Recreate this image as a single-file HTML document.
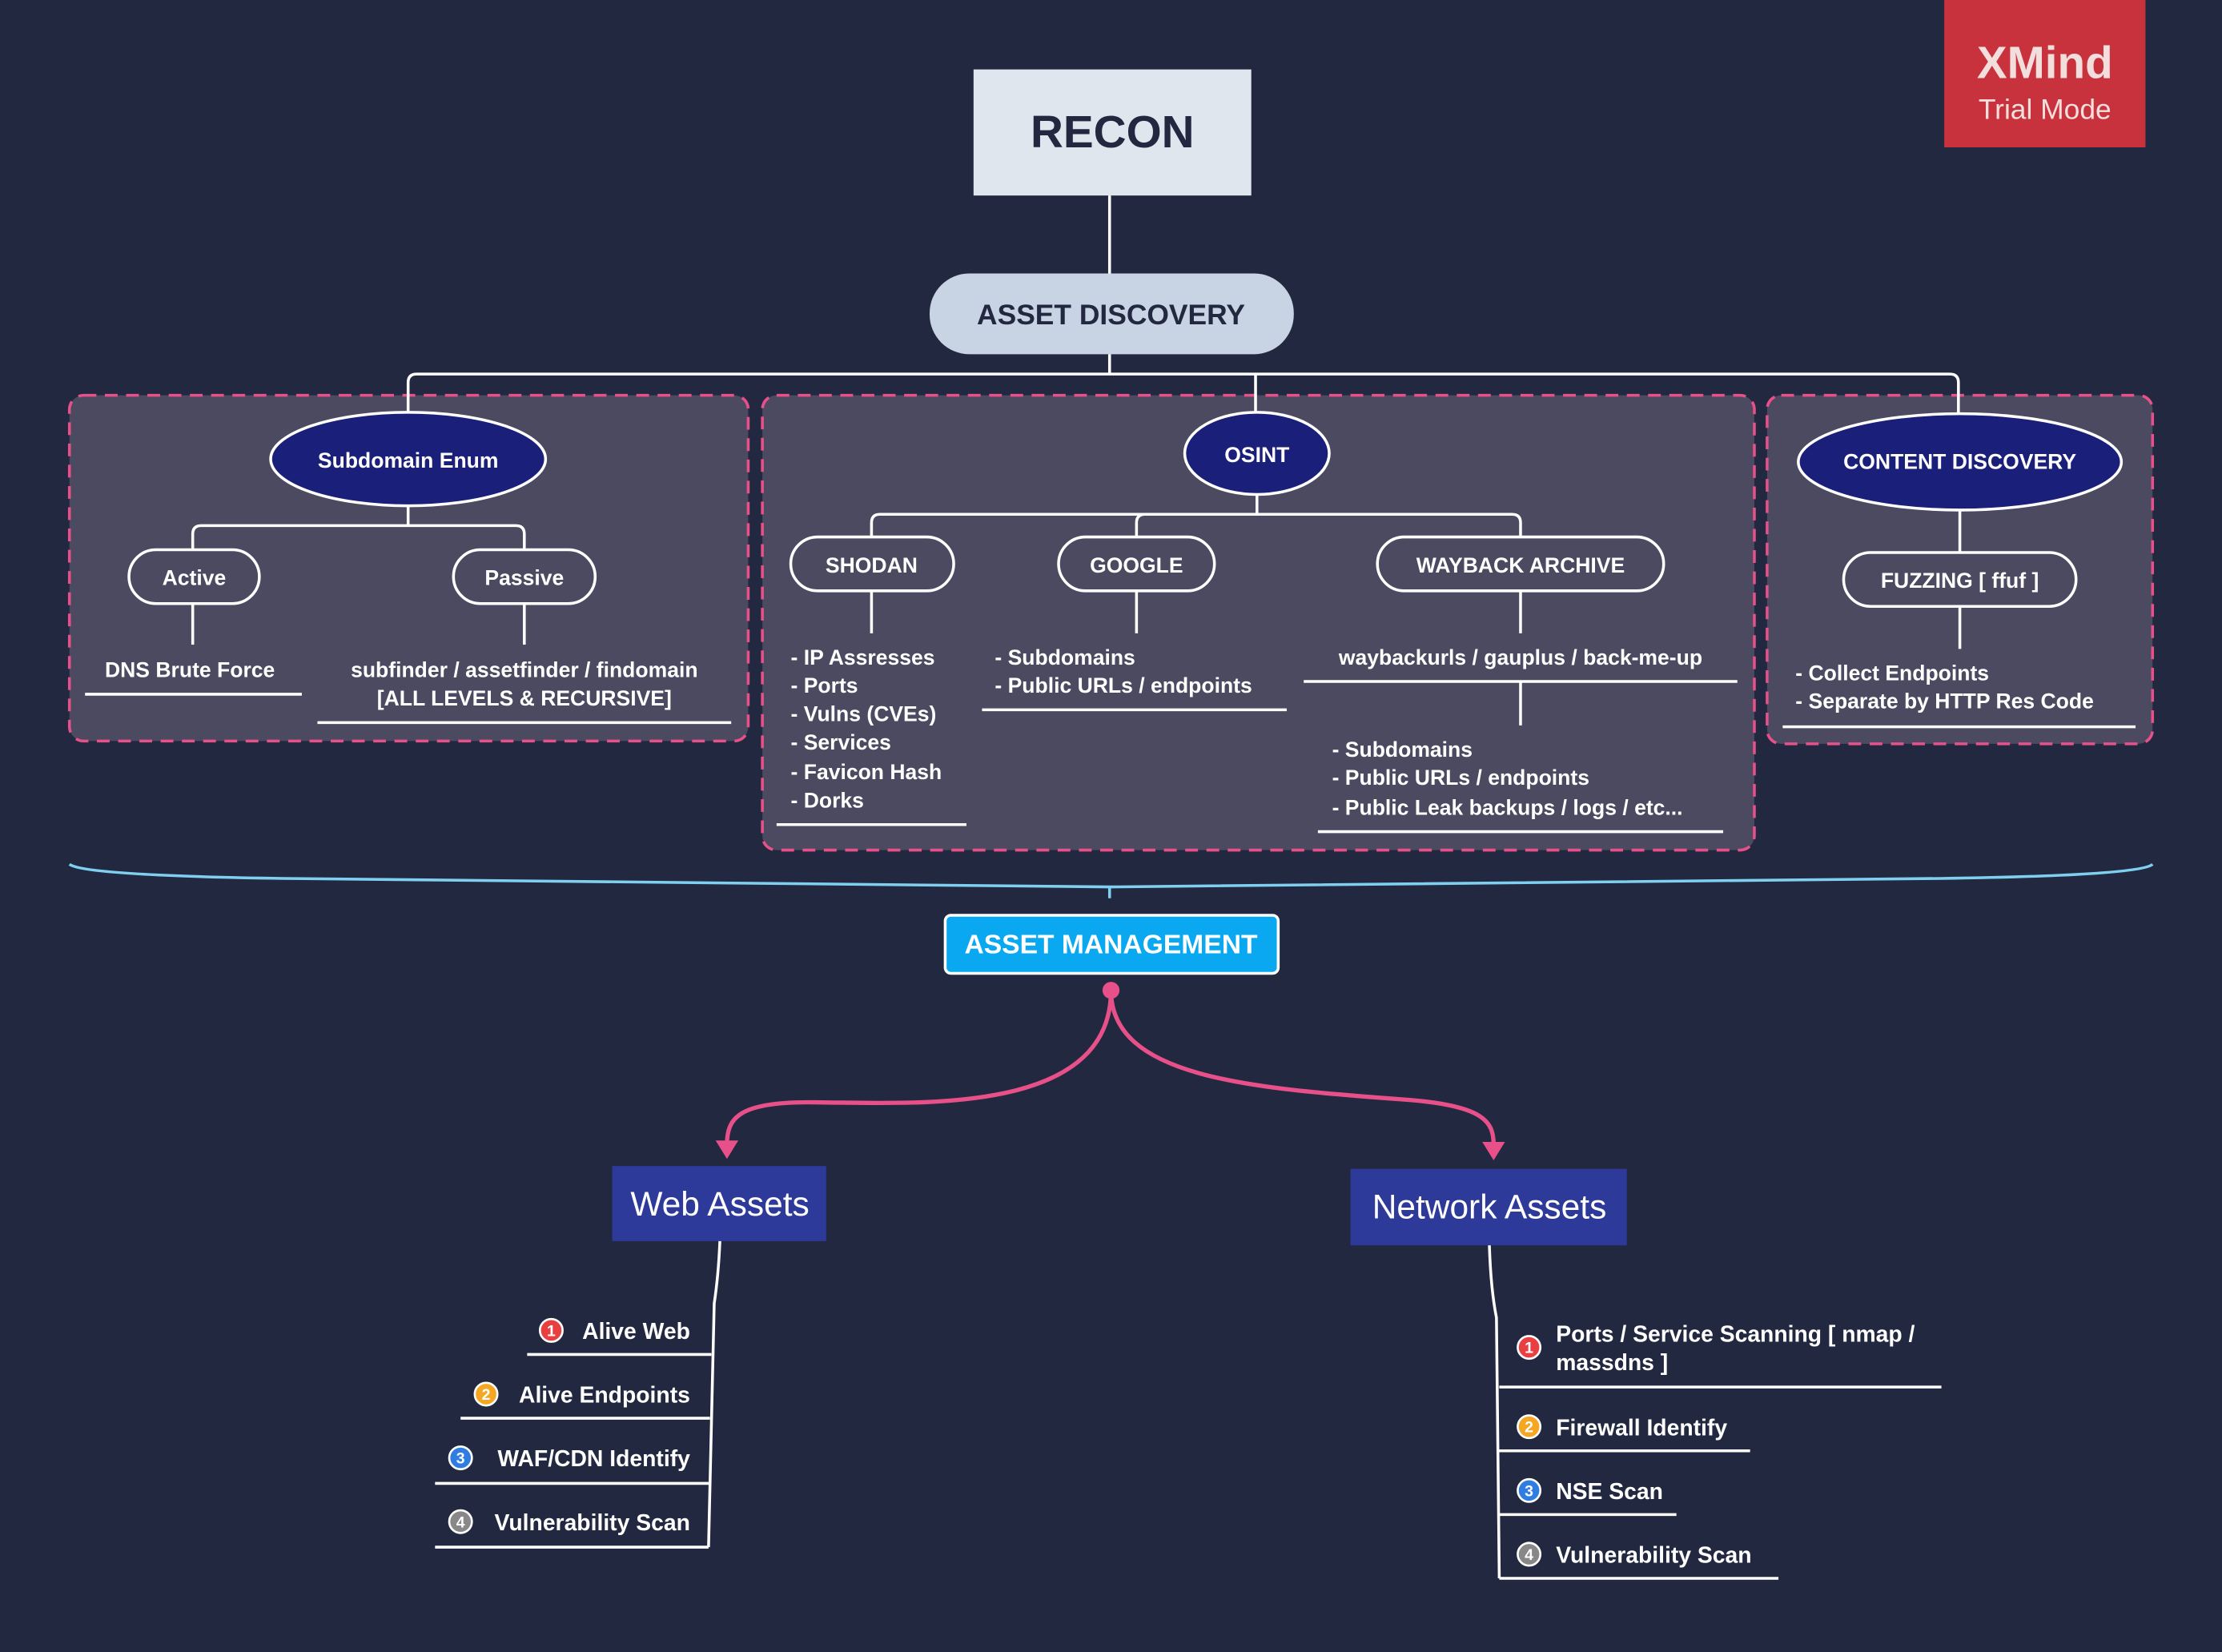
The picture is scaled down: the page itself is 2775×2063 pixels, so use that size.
<!DOCTYPE html>
<html><head><meta charset="utf-8"><style>
html,body{margin:0;padding:0;background:#222840;}
svg{display:block}
text{font-family:"Liberation Sans",sans-serif;}
</style></head><body>
<svg width="2775" height="2063" viewBox="0 0 1568 1166" preserveAspectRatio="none" xmlns="http://www.w3.org/2000/svg">
<rect width="1568" height="1166" fill="#222840"/>
<!-- XMind -->
<rect x="1372" y="0" width="142" height="104" fill="#c8323c"/>
<text x="1443" y="55" text-anchor="middle" font-size="32" font-weight="bold" fill="#f3dede">XMind</text>
<text x="1443" y="84" text-anchor="middle" font-size="20" fill="#f3dede">Trial Mode</text>

<!-- dashed boxes -->
<g fill="#4b4a60" stroke="#e8508a" stroke-width="2" stroke-dasharray="9,6">
<rect x="49" y="279" width="479" height="244" rx="10"/>
<rect x="538" y="279" width="700" height="321" rx="10"/>
<rect x="1247" y="279" width="272" height="246" rx="10"/>
</g>

<g stroke="#ffffff" stroke-width="2" fill="none">
<line x1="783" y1="138" x2="783" y2="193"/>
<line x1="783" y1="250" x2="783" y2="264"/>
<path d="M288 292 V270 Q288 264 294 264 H1376 Q1382 264 1382 270 V292"/>
<line x1="886" y1="264" x2="886" y2="292" />
<path d="M886 264 Q886 264 886 264"/>
<!-- subdomain -->
<line x1="288" y1="357" x2="288" y2="371"/>
<path d="M136 388 V377 Q136 371 142 371 H364 Q370 371 370 377 V388"/>
<line x1="136" y1="426" x2="136" y2="455"/>
<line x1="370" y1="426" x2="370" y2="455"/>
<line x1="60" y1="490" x2="213" y2="490"/>
<line x1="224" y1="510" x2="516" y2="510"/>
<!-- osint -->
<line x1="887" y1="349" x2="887" y2="363"/>
<path d="M615 379 V369 Q615 363 621 363 H1067 Q1073 363 1073 369 V379"/>
<path d="M802 379 V369 Q802 363 808 363"/>
<line x1="615" y1="417" x2="615" y2="447"/>
<line x1="802" y1="417" x2="802" y2="447"/>
<line x1="1073" y1="417" x2="1073" y2="447"/>
<line x1="548" y1="582" x2="682" y2="582"/>
<line x1="693" y1="501" x2="908" y2="501"/>
<line x1="920" y1="481" x2="1226" y2="481"/>
<line x1="1073" y1="481" x2="1073" y2="512"/>
<line x1="930" y1="587" x2="1216" y2="587"/>
<!-- content -->
<line x1="1383" y1="360" x2="1383" y2="390"/>
<line x1="1383" y1="428" x2="1383" y2="458"/>
<line x1="1258" y1="513" x2="1507" y2="513"/>
</g>

<!-- RECON -->
<rect x="687" y="49" width="196" height="89" fill="#e0e6ee"/>
<text x="785" y="104" text-anchor="middle" font-size="32" font-weight="bold" fill="#222840">RECON</text>
<rect x="656" y="193" width="257" height="57" rx="28" fill="#c8d3e3"/>
<text x="784" y="229" text-anchor="middle" font-size="20" font-weight="bold" fill="#222840">ASSET DISCOVERY</text>

<!-- ellipses -->
<g fill="#1a1f7a" stroke="#ffffff" stroke-width="2">
<ellipse cx="288" cy="324" rx="97" ry="33"/>
<ellipse cx="887" cy="320" rx="51" ry="29"/>
<ellipse cx="1383" cy="326" rx="114" ry="34"/>
</g>
<g font-size="15" font-weight="bold" fill="#ffffff" text-anchor="middle">
<text x="288" y="330">Subdomain Enum</text>
<text x="887" y="326">OSINT</text>
<text x="1383" y="331">CONTENT DISCOVERY</text>
</g>

<!-- pills -->
<g fill="#4b4a60" stroke="#ffffff" stroke-width="2">
<rect x="91" y="388" width="92" height="38" rx="19"/>
<rect x="320" y="388" width="100" height="38" rx="19"/>
<rect x="558" y="379" width="115" height="38" rx="19"/>
<rect x="747" y="379" width="110" height="38" rx="19"/>
<rect x="972" y="379" width="202" height="38" rx="19"/>
<rect x="1301" y="390" width="164" height="38" rx="19"/>
</g>
<g font-size="15" font-weight="bold" fill="#ffffff" text-anchor="middle">
<text x="137" y="413">Active</text>
<text x="370" y="413">Passive</text>
<text x="615" y="404">SHODAN</text>
<text x="802" y="404">GOOGLE</text>
<text x="1073" y="404">WAYBACK ARCHIVE</text>
<text x="1383" y="415">FUZZING [ ffuf ]</text>
<text x="134" y="478">DNS Brute Force</text>
<text x="370" y="478">subfinder / assetfinder / findomain</text>
<text x="370" y="498">[ALL LEVELS &amp; RECURSIVE]</text>
<text x="1073" y="469">waybackurls / gauplus / back-me-up</text>
</g>
<g font-size="15" font-weight="bold" fill="#ffffff">
<text x="558" y="469">- IP Assresses</text>
<text x="558" y="489">- Ports</text>
<text x="558" y="509">- Vulns (CVEs)</text>
<text x="558" y="529">- Services</text>
<text x="558" y="550">- Favicon Hash</text>
<text x="558" y="570">- Dorks</text>
<text x="702" y="469">- Subdomains</text>
<text x="702" y="489">- Public URLs / endpoints</text>
<text x="940" y="534">- Subdomains</text>
<text x="940" y="554">- Public URLs / endpoints</text>
<text x="940" y="575">- Public Leak backups / logs / etc...</text>
<text x="1267" y="480">- Collect Endpoints</text>
<text x="1267" y="500">- Separate by HTTP Res Code</text>
</g>

<!-- brace -->
<path d="M49 610 Q60 618 200 620 L783 626 L1370 620 Q1510 618 1519 610" fill="none" stroke="#7fd0f0" stroke-width="2"/>
<line x1="783" y1="626" x2="783" y2="634" stroke="#7fd0f0" stroke-width="2"/>

<rect x="667" y="646" width="235" height="41" rx="4" fill="#0aa8f0" stroke="#ffffff" stroke-width="2"/>
<text x="784" y="673" text-anchor="middle" font-size="19" font-weight="bold" fill="#ffffff">ASSET MANAGEMENT</text>

<!-- curves -->
<g fill="none" stroke="#e8508a" stroke-width="3">
<path d="M784 699 C784 790 640 778 570 778 C520 778 513 790 513 808"/>
<path d="M784 699 C784 760 880 768 990 776 C1048 780 1054 792 1054 808"/>
</g>
<circle cx="784" cy="699" r="6" fill="#e8508a"/>
<path d="M505 805 L513 818 L521 805 Z" fill="#e8508a"/>
<path d="M1046 806 L1054 819 L1062 806 Z" fill="#e8508a"/>

<rect x="432" y="823" width="151" height="53" fill="#2e3a9a"/>
<text x="508" y="858" text-anchor="middle" font-size="24" fill="#ffffff">Web Assets</text>
<rect x="953" y="825" width="195" height="54" fill="#2e3a9a"/>
<text x="1051" y="860" text-anchor="middle" font-size="24" fill="#ffffff">Network Assets</text>

<g stroke="#ffffff" stroke-width="2" fill="none">
<path d="M508 876 Q507 900 504 920 L500 1092"/>
<line x1="372" y1="956" x2="502" y2="956"/>
<line x1="325" y1="1001" x2="501" y2="1001"/>
<line x1="307" y1="1047" x2="501" y2="1047"/>
<line x1="307" y1="1092" x2="500" y2="1092"/>
<path d="M1051 879 Q1052 910 1056 930 L1058 1114"/>
<line x1="1058" y1="979" x2="1370" y2="979"/>
<line x1="1058" y1="1024" x2="1235" y2="1024"/>
<line x1="1058" y1="1069" x2="1183" y2="1069"/>
<line x1="1058" y1="1114" x2="1255" y2="1114"/>
</g>
<g font-size="11" font-weight="bold" fill="#ffffff" text-anchor="middle" stroke="#ffffff" stroke-width="1.5">
<circle cx="389" cy="939" r="8" fill="#e84040"/>
<circle cx="343" cy="984" r="8" fill="#f5a623"/>
<circle cx="325" cy="1029" r="8" fill="#2f7de1"/>
<circle cx="325" cy="1074" r="8" fill="#888888"/>
<circle cx="1079" cy="951" r="8" fill="#e84040"/>
<circle cx="1079" cy="1007" r="8" fill="#f5a623"/>
<circle cx="1079" cy="1052" r="8" fill="#2f7de1"/>
<circle cx="1079" cy="1097" r="8" fill="#888888"/>
</g>
<g font-size="11" font-weight="bold" fill="#ffffff" text-anchor="middle">
<text x="389" y="943">1</text><text x="343" y="988">2</text><text x="325" y="1033">3</text><text x="325" y="1078">4</text>
<text x="1079" y="955">1</text><text x="1079" y="1011">2</text><text x="1079" y="1056">3</text><text x="1079" y="1101">4</text>
</g>
<g font-size="16" font-weight="bold" fill="#ffffff" text-anchor="end">
<text x="487" y="945">Alive Web</text>
<text x="487" y="990">Alive Endpoints</text>
<text x="487" y="1035">WAF/CDN Identify</text>
<text x="487" y="1080">Vulnerability Scan</text>
</g>
<g font-size="16" font-weight="bold" fill="#ffffff">
<text x="1098" y="947">Ports / Service Scanning [ nmap /</text>
<text x="1098" y="967">massdns ]</text>
<text x="1098" y="1013">Firewall Identify</text>
<text x="1098" y="1058">NSE Scan</text>
<text x="1098" y="1103">Vulnerability Scan</text>
</g>
</svg>
</body></html>
